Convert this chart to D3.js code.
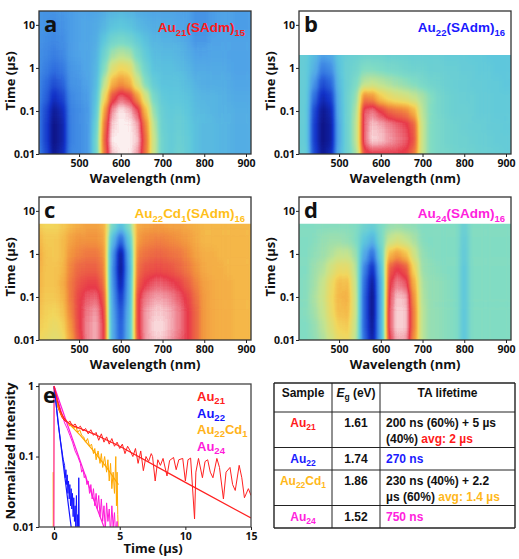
<!DOCTYPE html>
<html>
<head>
<meta charset="utf-8">
<script src="https://d3js.org/d3.v7.min.js"></script>
<style>
body { margin: 0; background: #fff; }
text { font-family: "Open Sans", sans-serif; font-weight: bold; fill: #111; }
.arial { font-family: "Liberation Sans", Arial, sans-serif; }
</style>
</head>
<body>
<script>
// ---- transient absorption maps: cell centres ----
const wavelengths = [400,420,440,460,480,500,520,540,560,580,600,620,640,660,680,700,720,740,760,780,800,820,840,860,880,900,920];
const times = [0.01,0.0215,0.0464,0.1,0.215,0.464,1,2.15,4.64,10,21.5];
const timeTicks = [0.01,0.1,1,10];
const wlTicks = [500,600,700,800,900];

// levels 0 (bleach, dark blue) .. 10 (strongest absorption, white); rows go from 0.01 us upwards
const gridA = [
  [2.5,1.5,0.3,0.8,2.5,2.6,2.8,4.5,8.3,9.8,10,10,9.6,8.3,6.0,4.5,4.2,4.5,4.2,3.8,3.6,3.6,3.5,3.4,3.3,3.3,3.3],
  [2.4,1.3,0.2,0.6,2.4,2.6,2.8,4.5,8.5,10,10,10,9.8,8.4,6.0,4.5,4.2,4.4,4.2,3.8,3.6,3.6,3.5,3.4,3.3,3.3,3.3],
  [2.4,1.3,0.2,0.6,2.4,2.6,2.8,4.3,8.3,9.9,10,10,9.7,8.2,5.8,4.4,4.2,4.3,4.1,3.8,3.6,3.6,3.5,3.4,3.3,3.3,3.3],
  [2.4,1.4,0.4,0.8,2.4,2.6,2.8,4.0,7.8,9.6,10,9.8,9.2,7.5,5.3,4.3,4.1,4.2,4.0,3.7,3.6,3.5,3.4,3.4,3.3,3.3,3.2],
  [2.5,1.8,0.9,1.3,2.5,2.7,2.9,3.8,6.8,8.8,9.3,9.0,8.0,6.3,4.8,4.1,4.0,4.0,3.9,3.6,3.5,3.5,3.4,3.3,3.2,3.2,3.2],
  [2.6,2.0,1.5,1.8,2.7,2.8,3.0,3.6,5.8,7.6,8.0,7.7,6.3,5.0,4.2,3.9,3.9,3.9,3.7,3.4,3.3,3.3,3.3,3.2,3.1,3.1,3.1],
  [2.7,2.3,2.0,2.2,2.8,2.9,3.1,3.5,5.0,6.5,7.0,6.8,5.5,4.5,3.9,3.8,3.8,3.7,3.5,3.2,3.2,3.2,3.2,3.1,3.0,3.0,3.0],
  [2.7,2.5,2.3,2.5,2.9,3.0,3.1,3.4,4.5,5.5,5.8,5.6,4.8,4.1,3.7,3.6,3.6,3.5,3.3,3.0,3.0,3.1,3.1,3.0,3.0,3.0,3.0],
  [2.8,2.6,2.5,2.6,2.9,3.0,3.1,3.3,4.0,4.6,4.8,4.6,4.2,3.8,3.5,3.4,3.4,3.3,3.1,2.8,2.8,3.0,3.0,3.0,3.0,3.0,3.0],
  [2.8,2.7,2.6,2.7,2.9,3.0,3.1,3.2,3.5,3.9,4.0,3.9,3.6,3.4,3.3,3.2,3.2,3.1,3.0,2.7,2.7,2.9,3.0,3.0,2.9,2.9,2.9],
  [2.8,2.7,2.7,2.8,2.9,3.0,3.0,3.1,3.3,3.5,3.6,3.5,3.3,3.2,3.1,3.1,3.1,3.0,3.0,2.7,2.7,2.9,3.0,3.0,2.9,2.9,2.9]
];
const gridB = [
  [4.3,4.3,1.4,0.4,0.8,3.5,4.5,5.5,8.8,9.0,9.0,9.0,9.0,8.9,8.3,6.0,5.0,4.8,4.7,4.6,4.5,4.5,4.4,4.3,4.3,4.2,4.2],
  [4.3,4.2,1.2,0.2,0.5,3.3,4.5,5.8,9.3,9.9,9.8,9.6,9.4,9.2,8.7,6.0,5.0,4.8,4.6,4.5,4.5,4.4,4.3,4.3,4.2,4.2,4.2],
  [4.3,4.2,1.2,0.2,0.5,3.3,4.5,5.8,9.3,9.8,9.7,9.5,9.3,9.1,8.6,6.0,5.0,4.8,4.6,4.5,4.4,4.3,4.3,4.2,4.2,4.1,4.1],
  [4.3,4.2,1.4,0.3,0.7,3.4,4.5,5.6,9.2,9.4,9.0,8.6,8.4,8.2,7.6,5.8,5.0,4.7,4.5,4.4,4.4,4.3,4.2,4.2,4.1,4.1,4.1],
  [4.3,4.2,2.0,0.8,1.2,3.5,4.5,5.3,8.2,8.0,7.2,6.8,6.5,6.3,6.0,5.6,5.1,4.7,4.5,4.4,4.3,4.3,4.2,4.2,4.1,4.1,4.1],
  [4.3,4.2,2.8,1.5,1.9,3.7,4.4,4.9,5.8,6.0,5.8,5.6,5.4,5.2,5.0,4.8,4.6,4.5,4.4,4.3,4.3,4.2,4.2,4.1,4.1,4.0,4.0],
  [4.3,4.2,3.4,2.3,2.6,3.9,4.4,4.6,5.0,5.0,4.9,4.8,4.7,4.6,4.5,4.5,4.4,4.4,4.3,4.3,4.2,4.2,4.1,4.1,4.0,4.0,4.0],
  [4.3,4.2,3.7,3.0,3.2,4.0,4.3,4.4,4.5,4.5,4.5,4.4,4.4,4.4,4.3,4.3,4.3,4.3,4.2,4.2,4.2,4.1,4.1,4.0,4.0,4.0,4.0]
];
const gridC = [
  [7.0,6.8,6.6,6.8,7.8,8.8,9.5,9.7,9.0,3.2,1.8,3.6,8.8,9.6,9.8,9.8,9.6,9.3,9.0,8.5,7.9,7.7,7.6,7.6,7.5,7.5,7.5],
  [7.2,7.0,6.8,7.0,8.0,8.9,9.5,9.7,9.0,3.2,1.7,3.6,8.9,9.6,9.9,9.9,9.7,9.4,9.0,8.5,7.9,7.7,7.6,7.6,7.5,7.5,7.5],
  [7.4,7.1,7.0,7.3,8.2,8.9,9.4,9.6,8.9,3.1,1.5,3.5,8.9,9.6,9.8,9.8,9.7,9.4,9.0,8.5,7.9,7.7,7.6,7.6,7.5,7.5,7.5],
  [7.5,7.2,7.2,7.5,8.3,8.9,9.2,9.3,8.7,2.9,1.1,3.3,8.9,9.4,9.6,9.6,9.5,9.2,8.9,8.4,7.9,7.7,7.6,7.6,7.5,7.5,7.5],
  [7.6,7.3,7.3,7.6,8.3,8.7,8.9,8.9,8.4,2.7,0.6,3.2,8.6,9.0,9.2,9.2,9.1,8.9,8.6,8.2,7.8,7.7,7.6,7.6,7.5,7.5,7.5],
  [7.7,7.3,7.3,7.5,8.2,8.5,8.6,8.6,8.2,2.6,0.3,3.1,8.4,8.7,8.8,8.8,8.7,8.5,8.3,8.0,7.7,7.6,7.6,7.5,7.5,7.5,7.5],
  [7.8,7.3,7.2,7.4,8.0,8.2,8.3,8.3,8.0,2.8,0.4,3.3,8.2,8.4,8.5,8.5,8.4,8.3,8.1,7.8,7.6,7.6,7.5,7.5,7.5,7.5,7.5],
  [7.6,7.2,7.2,7.4,7.8,8.0,8.0,8.0,7.8,3.6,1.8,4.0,7.9,8.1,8.2,8.2,8.1,8.0,7.9,7.7,7.5,7.5,7.5,7.5,7.5,7.5,7.5],
  [7.3,7.0,7.0,7.2,7.5,7.7,7.8,7.8,7.6,4.8,3.8,5.0,7.7,7.8,7.9,7.9,7.8,7.8,7.7,7.6,7.5,7.5,7.5,7.5,7.5,7.5,7.5]
];
const gridD = [
  [5.0,5.0,5.2,5.6,6.2,6.8,6.9,5.9,2.0,0.5,3.2,9.0,9.7,9.6,8.0,5.8,5.3,5.2,5.1,5.0,4.0,5.0,5.0,5.0,5.0,5.0,5.0],
  [5.0,5.0,5.3,5.8,6.5,7.1,7.2,6.0,1.8,0.3,3.2,9.2,9.9,9.8,8.2,5.8,5.3,5.2,5.1,5.0,4.0,5.0,5.0,5.0,5.0,5.0,5.0],
  [5.0,5.1,5.5,6.0,6.8,7.4,7.5,6.1,1.8,0.2,3.2,9.2,9.9,9.8,8.2,5.8,5.3,5.2,5.1,5.0,4.0,5.0,5.0,5.0,5.0,5.0,5.0],
  [5.0,5.1,5.6,6.1,6.9,7.5,7.6,6.1,1.8,0.2,3.2,9.1,9.8,9.7,8.0,5.7,5.3,5.2,5.1,5.0,4.0,5.0,5.0,5.0,5.0,5.0,5.0],
  [5.0,5.1,5.5,6.0,6.8,7.4,7.4,6.0,2.0,0.4,3.3,8.9,9.4,9.2,7.6,5.6,5.3,5.2,5.1,5.0,4.0,5.0,5.0,5.0,5.0,5.0,5.0],
  [5.0,5.0,5.4,5.7,6.3,6.8,6.8,5.8,2.4,0.9,3.7,8.6,9.0,8.7,7.0,5.4,5.2,5.1,5.0,5.0,4.0,5.0,5.0,5.0,5.0,5.0,5.0],
  [5.0,5.0,5.2,5.4,5.7,6.0,6.0,5.4,3.2,2.0,4.3,7.5,7.9,7.4,6.2,5.3,5.1,5.0,5.0,5.0,4.1,5.0,5.0,5.0,5.0,5.0,5.0],
  [5.0,5.0,5.1,5.3,5.4,5.4,5.3,5.0,4.0,3.4,4.8,6.0,6.3,6.0,5.6,5.1,5.0,5.0,5.0,5.0,4.2,5.0,5.0,5.0,5.0,5.0,5.0],
  [5.0,5.0,5.0,5.1,5.1,5.1,5.1,5.0,4.6,4.3,4.9,5.3,5.4,5.3,5.2,5.0,5.0,5.0,5.0,5.0,4.3,5.0,5.0,5.0,5.0,5.0,5.0]
];
const dataTop = [21, 2, 5, 5];          // last measured time (us) in each map
const panelLetters = ["a","b","c","d"];
const clusterNames = ["Au21(SAdm)15","Au22(SAdm)16","Au22Cd1(SAdm)16","Au24(SAdm)16"];
const clusterColors = ["#ff1a1a","#1a1aff","#ffbf1a","#ff22dd"];

// ---- panel e: normalized kinetics [time us, intensity] ----
const au21Data = [[0,0.95],[0.1,0.8],[0.2,0.62],[0.3,0.5],[0.45,0.42],[0.6,0.36],[0.75,0.33],[0.9,0.31],[1.05,0.3],[1.2,0.32],[1.4,0.27],[1.6,0.29],[1.8,0.25],[2.0,0.27],[2.2,0.23],[2.4,0.25],[2.6,0.21],[2.8,0.24],[3.0,0.2],[3.2,0.22],[3.4,0.17],[3.6,0.21],[3.8,0.16],[4.0,0.19],[4.2,0.15],[4.4,0.18],[4.6,0.14],[4.8,0.16],[5.0,0.13],[5.2,0.15],[5.4,0.11],[5.6,0.14],[5.8,0.12],[6.0,0.1],[6.2,0.13],[6.4,0.08],[6.6,0.12],[6.8,0.063],[7.0,0.1],[7.2,0.085],[7.4,0.11],[7.5,0.1],[7.7,0.045],[7.9,0.09],[8.1,0.075],[8.3,0.094],[8.6,0.053],[8.8,0.088],[9.1,0.097],[9.3,0.065],[9.5,0.09],[9.8,0.094],[10.0,0.045],[10.2,0.09],[10.4,0.095],[10.7,0.013],[10.8,0.06],[11.0,0.094],[11.3,0.05],[11.5,0.085],[11.7,0.09],[11.9,0.06],[12.1,0.05],[12.4,0.094],[12.6,0.07],[12.9,0.025],[13.1,0.06],[13.4,0.07],[13.6,0.04],[13.8,0.033],[14.1,0.075],[14.3,0.05],[14.5,0.026],[14.8,0.035],[15.0,0.028]];
const au21Fit = [[0,1],[0.25,0.62],[0.5,0.43],[0.75,0.35],[1,0.31],[1.5,0.27],[2,0.25],[3,0.21],[5,0.14],[10,0.043],[15,0.0134]];
const au22Data = [[0,0.95],[0.1,0.7],[0.2,0.45],[0.3,0.3],[0.4,0.22],[0.5,0.16],[0.6,0.12],[0.7,0.09],[0.8,0.075],[0.85,0.05],[0.9,0.065],[0.95,0.04],[1.0,0.055],[1.05,0.03],[1.1,0.045],[1.15,0.025],[1.2,0.04],[1.25,0.02],[1.3,0.035],[1.35,0.018],[1.4,0.03],[1.45,0.014],[1.5,0.026],[1.55,0.012],[1.6,0.02],[1.65,0.01],[1.7,0.028],[1.75,0.009],[1.8,0.015],[1.85,0.006],[1.88,0.05],[1.92,0.008]];
const au22Fit = [[0,1],[0.4,0.22],[0.8,0.055],[1.2,0.014],[1.3,0.01]];
const au22cd1Data = [[-0.07,0.004],[-0.06,0.06],[-0.04,0.004],[0,1],[0.1,0.8],[0.2,0.62],[0.3,0.5],[0.45,0.42],[0.6,0.37],[0.75,0.34],[0.9,0.31],[1.05,0.3],[1.2,0.27],[1.35,0.29],[1.5,0.25],[1.65,0.27],[1.8,0.22],[1.95,0.24],[2.1,0.2],[2.25,0.19],[2.4,0.16],[2.55,0.18],[2.7,0.14],[2.85,0.15],[3.0,0.11],[3.1,0.13],[3.2,0.09],[3.35,0.12],[3.5,0.08],[3.6,0.11],[3.7,0.07],[3.85,0.1],[4.0,0.06],[4.1,0.09],[4.2,0.045],[4.3,0.08],[4.4,0.035],[4.5,0.06],[4.6,0.03],[4.7,0.1],[4.75,0.02],[4.8,0.06],[4.85,0.015],[4.9,0.008]];
const au22cd1Fit = [[0,1],[0.3,0.52],[0.6,0.38],[1,0.31],[2,0.2],[3,0.12],[4,0.07],[4.9,0.04]];
const au24Data = [[-0.02,0.001],[0,1],[0.15,0.8],[0.3,0.62],[0.45,0.5],[0.6,0.4],[0.8,0.3],[1.0,0.25],[1.2,0.2],[1.4,0.16],[1.6,0.12],[1.8,0.1],[2.0,0.08],[2.1,0.06],[2.2,0.065],[2.3,0.05],[2.4,0.055],[2.5,0.04],[2.6,0.045],[2.7,0.03],[2.8,0.04],[2.9,0.025],[3.0,0.035],[3.1,0.02],[3.2,0.03],[3.3,0.018],[3.4,0.028],[3.5,0.014],[3.6,0.025],[3.7,0.012],[3.8,0.02],[3.9,0.009],[4.0,0.022],[4.1,0.012],[4.2,0.018],[4.3,0.008],[4.4,0.02],[4.5,0.01],[4.6,0.016],[4.7,0.007],[4.8,0.012],[4.85,0.005]];
const au24Fit = [[0,1],[1,0.29],[2,0.085],[3,0.025],[3.8,0.01]];
const kinNames = ["Au21","Au22","Au22Cd1","Au24"];
const kinColors = ["#ff2020","#1414ff","#ffa800","#ff1ad9"];
const kinLabelColors = ["#ff2020","#1414ff","#ffb31a","#ff1ad9"];
const kinTicksX = [0,5,10,15];
const kinTicksY = [0.01,0.1,1];

// ---- table ----
const tableSamples = ["Au21","Au22","Au22Cd1","Au24"];
const tableGap = ["1.61","1.74","1.86","1.52"];
const tableLife = [["200 ns (60%) + 5 µs","(40%) "],[""],["230 ns (40%) + 2.2","µs (60%) "],[""]];
const tableLifeHi = ["avg: 2 µs","270 ns","avg: 1.4 µs","750 ns"];
const tableColors = ["#ff1a1a","#1a1aff","#ffb81a","#ff22dd"];

const svg = d3.select("body").append("svg")
  .attr("width", 519).attr("height", 559);
const defs = svg.append("defs");

const heat = d3.scaleLinear()
  .domain([0,1,2,3,4,5,6,7,7.5,8,9,9.5,10])
  .range(["#0c0c78","#1232c8","#2f6fe0","#4fa3e8","#5ec8dc","#80dcc4","#c6e48e","#f2d75c","#f5b748","#f2943e","#e8394a","#f08a96","#fcf0f0"])
  .clamp(true);
// cells are drawn as grey levels, smoothed, then coloured by the filter's lookup table
const grey = d3.scaleLinear().domain([0, 10]).range(["#000", "#fff"]).clamp(true);
const filt = defs.append("filter").attr("id", "soft").attr("color-interpolation-filters", "sRGB");
filt.append("feGaussianBlur").attr("stdDeviation", "2.5 4.5");
const lut = filt.append("feComponentTransfer");
const lutCols = d3.range(0, 10.001, 0.25).map(v => d3.rgb(heat(v)));
["R", "G", "B"].forEach((ch, k) => {
  lut.append("feFunc" + ch).attr("type", "table")
    .attr("tableValues", lutCols.map(c => ([c.r, c.g, c.b][k] / 255).toFixed(3)).join(" "));
});

// writes "Au22Cd1" style names with the digits as subscripts
function subText(sel, str, big, small, shift) {
  let down = false;
  str.split(/(\d+)/).filter(s => s.length).forEach((s, k) => {
    const isSub = k > 0 && /^\d+$/.test(s);
    const t = sel.append("tspan").text(s).attr("font-size", big);
    if (isSub) t.attr("font-size", small);
    if (isSub && !down) { t.attr("dy", shift); down = true; }
    else if (!isSub && down) { t.attr("dy", -shift); down = false; }
  });
}

function styleAxis(g, size) {
  g.select(".domain").remove();
  g.selectAll(".tick line").attr("stroke", "#222");
  g.selectAll(".tick text").attr("font-size", size).attr("fill", "#111")
    .attr("font-family", "Open Sans").attr("font-weight", "bold");
}

const grids = [gridA, gridB, gridC, gridD];
const origins = [[39, 11], [299, 11], [39, 197], [299, 197]];
const W = 212, H = 143;

grids.forEach((grid, p) => {
  const [x0, y0] = origins[p];
  const x = d3.scaleLinear().domain([404, 912]).range([x0, x0 + W]);
  const y = d3.scaleLog().domain([0.01, 21]).range([y0 + H, y0]);
  const top = dataTop[p];
  defs.append("clipPath").attr("id", "clip" + p).append("rect")
    .attr("x", x0).attr("y", y(top)).attr("width", W).attr("height", y(0.01) - y(top));

  const cells = [];
  grid.forEach((row, j) => row.forEach((v, i) => cells.push({ i, j, v })));
  const nR = grid.length, nC = wavelengths.length;
  const tLo = j => j === 0 ? times[0] / 3 : Math.sqrt(times[j - 1] * times[j]);
  const tHi = j => j === nR - 1 ? times[j] * 3 : Math.sqrt(times[j] * times[j + 1]);

  svg.append("g").attr("clip-path", "url(#clip" + p + ")")
    .append("g").attr("filter", "url(#soft)")
    .selectAll("rect").data(cells).enter().append("rect")
      .attr("x", d => x(wavelengths[d.i] - 10) - (d.i === 0 ? 15 : 0))
      .attr("width", d => x(wavelengths[d.i] + 10) - x(wavelengths[d.i] - 10) + (d.i === 0 || d.i === nC - 1 ? 15 : 0) + 0.5)
      .attr("y", d => y(tHi(d.j)))
      .attr("height", d => y(tLo(d.j)) - y(tHi(d.j)) + 0.5)
      .attr("fill", d => grey(d.v));

  svg.append("rect").attr("x", x0).attr("y", y0).attr("width", W).attr("height", H)
    .attr("fill", "none").attr("stroke", "#333").attr("stroke-width", 1.3);

  const gx = svg.append("g").attr("transform", "translate(0," + (y0 + H) + ")")
    .call(d3.axisBottom(x).tickValues(wlTicks).tickSize(3).tickPadding(3).tickFormat(d3.format("d")));
  styleAxis(gx, 10.5);
  const gy = svg.append("g").attr("transform", "translate(" + x0 + ",0)")
    .call(d3.axisLeft(y).tickValues(timeTicks).tickSize(3).tickPadding(1).tickFormat(d => String(d)));
  styleAxis(gy, 10.5);

  svg.append("text").attr("x", x0 + W / 2).attr("y", y0 + H + 29)
    .attr("text-anchor", "middle").attr("font-size", 13).text("Wavelength (nm)");
  svg.append("text").attr("transform", "translate(" + (x0 - 24) + "," + (y0 + 70) + ") rotate(-90)")
    .attr("text-anchor", "middle").attr("font-size", 13).text("Time (µs)");
  svg.append("text").attr("x", x0 + 5).attr("y", y0 + 21).attr("font-size", 22).text(panelLetters[p]);
  const lab = svg.append("text").attr("class", "arial").attr("x", x0 + 206).attr("y", y0 + 21)
    .attr("text-anchor", "end").style("fill", clusterColors[p]);
  subText(lab, clusterNames[p], 13.5, 9.5, 3.5);
});

// ---- panel e ----
const ex = d3.scaleLinear().domain([-1.15, 15]).range([39, 251]);
const ey = d3.scaleLog().domain([0.01, 1.07]).range([527, 384]);
defs.append("clipPath").attr("id", "clipE").append("rect")
  .attr("x", 39).attr("y", 384).attr("width", 212).attr("height", 143);
const line = d3.line().x(d => ex(d[0])).y(d => ey(d[1]));
const eg = svg.append("g").attr("clip-path", "url(#clipE)");
const kin = [[au22cd1Data, au22cd1Fit, 2], [au22Data, au22Fit, 1], [au24Data, au24Fit, 3], [au21Data, au21Fit, 0]];
kin.forEach(([dat, fit, c]) => {
  eg.append("path").datum(dat).attr("d", line).attr("fill", "none")
    .attr("stroke", kinColors[c]).attr("stroke-width", 1).attr("stroke-linejoin", "round");
});
kin.forEach(([dat, fit, c]) => {
  eg.append("path").datum(fit).attr("d", line).attr("fill", "none")
    .attr("stroke", kinColors[c]).attr("stroke-width", 1.2);
});
svg.append("rect").attr("x", 39).attr("y", 384).attr("width", 212).attr("height", 143)
  .attr("fill", "none").attr("stroke", "#444").attr("stroke-width", 1.3);
const ega = svg.append("g").attr("transform", "translate(0,527)")
  .call(d3.axisBottom(ex).tickValues(kinTicksX).tickSize(3).tickPadding(3).tickFormat(d3.format("d")));
styleAxis(ega, 10.5);
const egy = svg.append("g").attr("transform", "translate(39,0)")
  .call(d3.axisLeft(ey).tickValues(kinTicksY).tickSize(3).tickPadding(2).tickFormat(d => String(d)));
styleAxis(egy, 10.5);
svg.append("text").attr("x", 153).attr("y", 553).attr("text-anchor", "middle")
  .attr("font-size", 13).text("Time (µs)");
svg.append("text").attr("transform", "translate(15,451) rotate(-90)")
  .attr("text-anchor", "middle").attr("font-size", 13).text("Normalized Intensity");
svg.append("text").attr("x", 43).attr("y", 403).attr("font-size", 22).text("e");
kinNames.forEach((n, i) => {
  const t = svg.append("text").attr("class", "arial").attr("x", 197).attr("y", 401 + i * 16.7)
    .style("fill", kinLabelColors[i]);
  subText(t, n, 13, 9.5, 3);
});

// ---- table ----
const tx = [274, 332, 380, 515];
const tb = svg.append("g").attr("class", "arial");
const rowTops = [383, 412];
tableLife.forEach(l => rowTops.push(rowTops[rowTops.length - 1] + (l.length === 1 ? 22.5 : 35.5)));
rowTops.forEach((yy, k) => {
  tb.append("line").attr("x1", tx[0]).attr("x2", tx[3]).attr("y1", yy).attr("y2", yy)
    .attr("stroke", "#222").attr("stroke-width", k === 0 || k === rowTops.length - 1 ? 1.4 : 1);
});
tx.forEach((xx, k) => {
  tb.append("line").attr("x1", xx).attr("x2", xx).attr("y1", rowTops[0]).attr("y2", rowTops[rowTops.length - 1])
    .attr("stroke", "#222").attr("stroke-width", k === 0 || k === 3 ? 1.4 : 1);
});
const hdr = (xx, str) => tb.append("text").attr("class", "arial").attr("x", xx).attr("y", 397)
  .attr("text-anchor", "middle").attr("font-size", 12).text(str);
hdr((tx[0] + tx[1]) / 2, "Sample");
hdr((tx[2] + tx[3]) / 2, "TA lifetime");
const egH = tb.append("text").attr("class", "arial").attr("x", (tx[1] + tx[2]) / 2).attr("y", 397)
  .attr("text-anchor", "middle").attr("font-size", 12);
egH.append("tspan").attr("font-style", "italic").text("E");
egH.append("tspan").attr("font-size", 8.5).attr("dy", 3).text("g");
egH.append("tspan").attr("dy", -3).text(" (eV)");
tableSamples.forEach((s, i) => {
  const yb = rowTops[i + 1] + 15;
  const st = tb.append("text").attr("class", "arial").attr("x", (tx[0] + tx[1]) / 2).attr("y", yb)
    .attr("text-anchor", "middle").style("fill", tableColors[i]);
  subText(st, s, 12, 8.5, 3);
  tb.append("text").attr("class", "arial").attr("x", (tx[1] + tx[2]) / 2).attr("y", yb)
    .attr("text-anchor", "middle").attr("font-size", 12).text(tableGap[i]);
  tableLife[i].forEach((ln, k) => {
    const t = tb.append("text").attr("class", "arial").attr("x", tx[2] + 6).attr("y", yb + k * 15.5)
      .attr("font-size", 12).attr("xml:space", "preserve");
    t.append("tspan").text(ln);
    if (k === tableLife[i].length - 1) t.append("tspan").style("fill", tableColors[i]).text(tableLifeHi[i]);
  });
});
</script>
</body>
</html>
